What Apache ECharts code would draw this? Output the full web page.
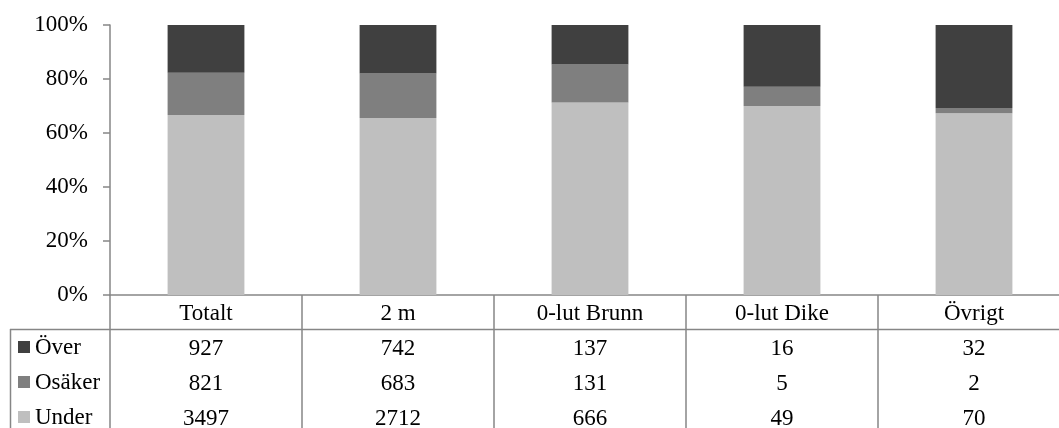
<!DOCTYPE html>
<html>
<head>
<meta charset="utf-8">
<script src="https://cdn.jsdelivr.net/npm/echarts@6/dist/echarts.min.js"></script>
<style>
  html, body { margin: 0; padding: 0; background: #fff; }
  #chart { width: 1059px; height: 428px; }
</style>
</head>
<body>
<div id="chart"></div>
<script>
// Categories and counts per outcome
const categories = ['Totalt', '2 m', '0-lut Brunn', '0-lut Dike', 'Övrigt'];
const seriesNames = ['Över', 'Osäker', 'Under'];
const over   = [927, 742, 137, 16, 32];
const osaker = [821, 683, 131, 5, 2];
const under  = [3497, 2712, 666, 49, 70];
const yTicks = [0, 0.2, 0.4, 0.6, 0.8, 1.0];

const FONT = '"Liberation Serif", "Times New Roman", serif';
const FS = 23;
const LINE = '#868686';
const colors = { 'Över': '#404040', 'Osäker': '#7f7f7f', 'Under': '#bfbfbf' };

const totals = categories.map((_, i) => over[i] + osaker[i] + under[i]);
const share = arr => arr.map((v, i) => v / totals[i]);

const HEADER_MARGIN = 7;
const ROW_STEP = 35;
const HEADER_MID = 312;

const labelStyle = {
  interval: 0, margin: HEADER_MARGIN, color: '#000',
  fontFamily: FONT, fontSize: FS, lineHeight: 24
};

// One row of the data table below the plot, as an extra category axis
function tableRow(values, row) {
  return {
    type: 'category',
    gridIndex: 0,
    position: 'bottom',
    offset: ROW_STEP * row,
    data: values.map(String),
    axisLine: { show: false },
    axisTick: { show: false },
    axisLabel: labelStyle
  };
}

// Row header of the data table: colour key plus series name
function rowKey(name, row) {
  const cy = HEADER_MID + ROW_STEP * row;
  return {
    type: 'group', silent: true,
    children: [
      { type: 'rect', shape: { x: 18, y: cy - 6, width: 12, height: 12 },
        style: { fill: colors[name] } },
      { type: 'text', x: 35, y: cy + 1,
        style: { text: name, font: FS + 'px ' + FONT, fill: '#000',
                 verticalAlign: 'middle', align: 'left' } }
    ]
  };
}

const chart = echarts.init(document.getElementById('chart'), null, { renderer: 'canvas' });
chart.setOption({
  animation: false,
  backgroundColor: '#fff',
  textStyle: { fontFamily: FONT, fontSize: FS, color: '#000' },
  grid: { left: 110, top: 25, width: 960, height: 270, outerBoundsMode: 'none', containLabel: false },
  xAxis: [
    {
      type: 'category',
      data: categories,
      axisLine: { lineStyle: { color: LINE, width: 1.5 } },
      axisTick: { show: true, interval: 0, alignWithLabel: false, length: 140,
                  lineStyle: { color: LINE, width: 1.5 } },
      axisLabel: labelStyle
    },
    tableRow(over, 1),
    tableRow(osaker, 2),
    tableRow(under, 3)
  ],
  yAxis: {
    type: 'value',
    min: yTicks[0], max: yTicks[yTicks.length - 1], interval: yTicks[1] - yTicks[0],
    splitLine: { show: false },
    axisLine: { show: true, lineStyle: { color: LINE, width: 1.5 } },
    axisTick: { show: true, length: 7, lineStyle: { color: LINE, width: 1.5 } },
    axisLabel: {
      margin: 22, color: '#000', fontFamily: FONT, fontSize: FS,
      formatter: v => Math.round(v * 100) + '%'
    }
  },
  series: [
    { name: 'Under',  type: 'bar', stack: 'all', barWidth: '40%',
      itemStyle: { color: colors['Under'] },  data: share(under) },
    { name: 'Osäker', type: 'bar', stack: 'all',
      itemStyle: { color: colors['Osäker'] }, data: share(osaker) },
    { name: 'Över',   type: 'bar', stack: 'all',
      itemStyle: { color: colors['Över'] },   data: share(over) }
  ],
  graphic: [
    // table frame: header underline and legend column border
    { type: 'line', silent: true, shape: { x1: 10, y1: 329.5, x2: 1059, y2: 329.5 },
      style: { stroke: LINE, lineWidth: 1.5 } },
    { type: 'line', silent: true, shape: { x1: 10.5, y1: 329, x2: 10.5, y2: 428 },
      style: { stroke: LINE, lineWidth: 1.5 } }
  ].concat(seriesNames.map((n, i) => rowKey(n, i + 1)))
});
</script>
</body>
</html>
